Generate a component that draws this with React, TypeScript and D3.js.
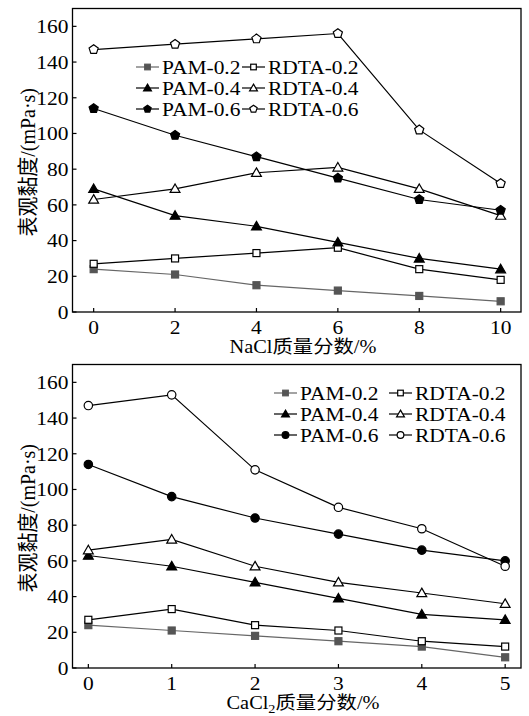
import React from 'react';
import * as d3 from 'd3';

// NaCl panel
const naclX = [0, 2, 4, 6, 8, 10];
const naclPam02 = [24, 21, 15, 12, 9, 6];
const naclRdta02 = [27, 30, 33, 36, 24, 18];
const naclPam04 = [69, 54, 48, 39, 30, 24];
const naclRdta04 = [63, 69, 78, 81, 69, 54];
const naclPam06 = [114, 99, 87, 75, 63, 57];
const naclRdta06 = [147, 150, 153, 156, 102, 72];

// CaCl2 panel
const caclX = [0, 1, 2, 3, 4, 5];
const caclPam02 = [24, 21, 18, 15, 12, 6];
const caclRdta02 = [27, 33, 24, 21, 15, 12];
const caclPam04 = [63, 57, 48, 39, 30, 27];
const caclRdta04 = [66, 72, 57, 48, 42, 36];
const caclPam06 = [114, 96, 84, 75, 66, 60];
const caclRdta06 = [147, 153, 111, 90, 78, 57];

const yTicks = [0, 20, 40, 60, 80, 100, 120, 140, 160];
const seriesNames = ['PAM-0.2', 'RDTA-0.2', 'PAM-0.4', 'RDTA-0.4', 'PAM-0.6', 'RDTA-0.6'];

const FONT = "'Liberation Serif', 'Times New Roman', 'Noto Sans CJK SC', serif";
const SX = 1.1; // the reference type is a little wider than it is tall

type Shape = 'square' | 'triangle' | 'circle' | 'pentagon';

// text squeezed out horizontally like the reference
function T({ x, y, anchor, size, dy, children }: { x: number; y: number; anchor?: string; size: number; dy?: string; children: React.ReactNode }) {
  return (
    <text transform={`translate(${x},${y}) scale(${SX},1)`} textAnchor={anchor || 'start'} fontSize={size} dy={dy}>
      {children}
    </text>
  );
}

function Marker({ shape, filled, x, y, gray, k = 1 }: { shape: Shape; filled: boolean; x: number; y: number; gray?: boolean; k?: number }) {
  const stroke = gray ? '#555' : '#000';
  const fill = filled ? stroke : '#fff';
  if (shape === 'square') {
    const h = 3.5 * k;
    return <rect x={x - h} y={y - h} width={2 * h} height={2 * h} fill={fill} stroke={stroke} strokeWidth={1.2} />;
  }
  if (shape === 'circle') {
    return <circle cx={x} cy={y} r={4.2 * k} fill={fill} stroke={stroke} strokeWidth={1.2} />;
  }
  if (shape === 'pentagon') {
    const r = 4.8 * k;
    const pts = d3.range(5).map((i) => {
      const a = -Math.PI / 2 + (i * 2 * Math.PI) / 5;
      return `${x + r * Math.cos(a)},${y + r * Math.sin(a)}`;
    });
    return <polygon points={pts.join(' ')} fill={fill} stroke={stroke} strokeWidth={1.2} />;
  }
  const path = d3.symbol(d3.symbolTriangle, 42 * k * k)() as string;
  return <path d={path} transform={`translate(${x},${y + 0.8 * k})`} fill={fill} stroke={stroke} strokeWidth={1.2} />;
}

interface PanelProps {
  top: number;
  xs: number[];
  xDomain: [number, number];
  series: number[][];
  ringShape: Shape;
  xLabel: React.ReactNode;
  legendX: number;
  legendY: number;
  legendGap: number;
}

function Panel({ top, xs, xDomain, series, ringShape, xLabel, legendX, legendY, legendGap }: PanelProps) {
  const left = 72.5;
  const right = 521;
  const plotTop = top;
  const plotBottom = top + 303.5;
  const x = d3.scaleLinear().domain(xDomain).range([left, right]);
  const y = d3.scaleLinear().domain([0, 170]).range([plotBottom, plotTop]);
  const line = d3.line<number>().x((_, i) => x(xs[i])).y((d) => y(d));
  const shapes: Shape[] = ['square', 'square', 'triangle', 'triangle', ringShape, ringShape];

  return (
    <g fontFamily={FONT} fill="#000">
      {series.map((vals, si) => (
        <path key={`l${si}`} d={line(vals) as string} fill="none" stroke={si === 0 ? '#666' : '#000'} strokeWidth={1.2} />
      ))}
      {series.map((vals, si) =>
        vals.map((v, i) => (
          <Marker key={`m${si}-${i}`} shape={shapes[si]} filled={si % 2 === 0} gray={si === 0} x={x(xs[i])} y={y(v)} />
        ))
      )}
      <rect x={left} y={plotTop} width={right - left} height={plotBottom - plotTop} fill="none" stroke="#000" strokeWidth={1.3} />
      {yTicks.map((t) => (
        <g key={`yt${t}`}>
          <line x1={left} x2={left + 4} y1={y(t)} y2={y(t)} stroke="#000" strokeWidth={1.2} />
          <T x={left - 4} y={y(t)} dy="0.35em" anchor="end" size={19.5}>
            {t}
          </T>
        </g>
      ))}
      {xs.map((t) => (
        <g key={`xt${t}`}>
          <line x1={x(t)} x2={x(t)} y1={plotBottom} y2={plotBottom - 4} stroke="#000" strokeWidth={1.2} />
          <T x={x(t)} y={plotBottom + 22} anchor="middle" size={19.5}>
            {t}
          </T>
        </g>
      ))}
      <T x={303} y={plotBottom + 41} anchor="middle" size={18.5}>
        {xLabel}
      </T>
      <text
        transform={`translate(35,${(plotTop + plotBottom) / 2 + 2}) rotate(-90) scale(1.05,1.1)`}
        textAnchor="middle"
        fontSize={19}
      >
        表观黏度/(mPa·s)
      </text>
      {seriesNames.map((name, si) => {
        const col = si % 2;
        const row = Math.floor(si / 2);
        const lx = legendX + col * legendGap;
        const ly = legendY + row * 21;
        return (
          <g key={`lg${si}`}>
            <line x1={lx} x2={lx + 23} y1={ly} y2={ly} stroke={si === 0 ? '#666' : '#000'} strokeWidth={1.2} />
            <Marker shape={shapes[si]} filled={si % 2 === 0} gray={si === 0} x={lx + 11.5} y={ly} k={0.8} />
            <T x={lx + 26} y={ly} dy="0.35em" size={19.5}>
              {name}
            </T>
          </g>
        );
      })}
    </g>
  );
}

export default function App() {
  return (
    <svg width={529} height={716} style={{ position: 'absolute', left: 0, top: 0, background: '#fff' }}>
      <Panel
        top={8.5}
        xs={naclX}
        xDomain={[-0.52, 10.5]}
        series={[naclPam02, naclRdta02, naclPam04, naclRdta04, naclPam06, naclRdta06]}
        ringShape="pentagon"
        xLabel="NaCl质量分数/%"
        legendX={136}
        legendY={67}
        legendGap={106}
      />
      <Panel
        top={364.5}
        xs={caclX}
        xDomain={[-0.19, 5.19]}
        series={[caclPam02, caclRdta02, caclPam04, caclRdta04, caclPam06, caclRdta06]}
        ringShape="circle"
        xLabel={
          <>
            CaCl<tspan fontSize={13} dy={4}>2</tspan>
            <tspan dy={-4}>质量分数/%</tspan>
          </>
        }
        legendX={274}
        legendY={393}
        legendGap={115}
      />
    </svg>
  );
}
